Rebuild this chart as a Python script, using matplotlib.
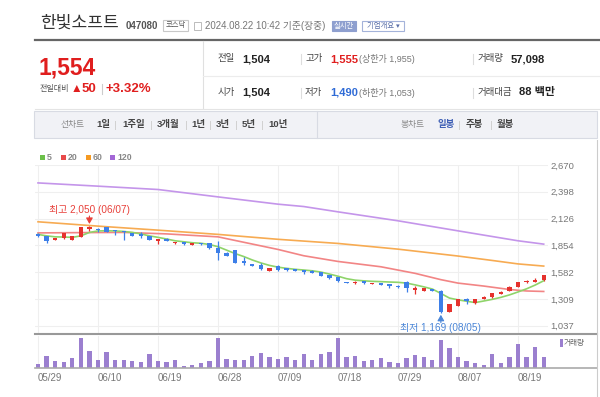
import matplotlib
matplotlib.use('Agg')
import matplotlib.pyplot as plt
from matplotlib.transforms import Affine2D
from matplotlib.patches import Rectangle
from matplotlib.lines import Line2D
import numpy as np

plt.rcParams['font.family'] = ['Liberation Sans', 'Noto Sans CJK KR', 'DejaVu Sans']

# ---------------- data ----------------
tick_idx = [0, 7, 14, 21, 28, 35, 42, 49, 56]
tick_labels = ['05/29', '06/10', '06/19', '06/28', '07/09', '07/18', '07/29', '08/07', '08/19']

opens = [1962, 1950, 1907, 1924, 1910, 1940, 2020, 2020, 2040, 2005,
         1992, 1978, 1965, 1950, 1900, 1917, 1873, 1886, 1860, 1876,
         1873, 1829, 1778, 1805, 1690, 1660, 1653, 1592, 1646, 1620,
         1614, 1600, 1597, 1579, 1551, 1530, 1484, 1467, 1487, 1460,
         1467, 1457, 1443, 1484, 1396, 1389, 1408, 1390, 1180, 1240,
         1305, 1264, 1311, 1325, 1359, 1389, 1433, 1477, 1485, 1504]
highs = [1978, 1952, 1932, 1980, 1950, 2045, 2050, 2025, 2045, 2010,
         1998, 1982, 1985, 1952, 1918, 1925, 1888, 1890, 1878, 1880,
         1876, 1900, 1782, 1808, 1737, 1665, 1675, 1622, 1655, 1625,
         1618, 1603, 1600, 1582, 1554, 1534, 1486, 1490, 1490, 1476,
         1470, 1460, 1446, 1490, 1440, 1418, 1412, 1395, 1258, 1308,
         1318, 1308, 1334, 1368, 1385, 1436, 1480, 1497, 1518, 1555]
lows = [1935, 1880, 1905, 1920, 1905, 1935, 2000, 1985, 1985, 1960,
        1910, 1948, 1924, 1905, 1863, 1895, 1870, 1862, 1858, 1860,
        1820, 1704, 1745, 1672, 1655, 1640, 1600, 1590, 1598, 1595,
        1592, 1565, 1574, 1538, 1514, 1486, 1470, 1460, 1465, 1458,
        1449, 1420, 1424, 1382, 1355, 1386, 1389, 1169, 1176, 1236,
        1262, 1260, 1308, 1322, 1356, 1386, 1430, 1474, 1480, 1490]
closes = [1952, 1896, 1930, 1975, 1947, 2042, 2035, 2005, 1990, 1995,
          1985, 1952, 1950, 1907, 1914, 1902, 1886, 1866, 1876, 1864,
          1822, 1772, 1748, 1676, 1672, 1645, 1610, 1620, 1602, 1600,
          1596, 1582, 1577, 1541, 1518, 1490, 1472, 1484, 1468, 1474,
          1452, 1438, 1427, 1416, 1416, 1416, 1392, 1180, 1255, 1305,
          1293, 1305, 1331, 1365, 1382, 1433, 1477, 1494, 1504, 1554]
volumes = [21800, 60500, 33600, 30200, 52100, 147800, 87400, 42000, 82300, 38600,
           38600, 33600, 28600, 68900, 33600, 28600, 42000, 11800, 16800, 25200,
           33600, 147800, 45400, 38600, 42000, 60500, 77300, 57100, 45400, 57100,
           38600, 68900, 38600, 68900, 82300, 147800, 53800, 60500, 33600, 42000,
           48700, 28600, 25200, 48700, 65500, 53800, 42000, 139400, 102500, 57100,
           33600, 25200, 13400, 68900, 25200, 57100, 117600, 53800, 105800, 57098]

ma5 = [1965, 1950, 1940, 1938, 1935, 1950, 1985, 2000, 2002, 2000,
       1995, 1985, 1970, 1950, 1935, 1918, 1900, 1890, 1880, 1875,
       1862, 1840, 1805, 1770, 1740, 1705, 1675, 1650, 1632, 1620,
       1610, 1603, 1595, 1582, 1562, 1540, 1515, 1500, 1493, 1488,
       1485, 1481, 1478, 1470, 1452, 1432, 1410, 1365, 1318, 1300,
       1286, 1272, 1288, 1305, 1325, 1350, 1380, 1412, 1450, 1494]
ma20_idx = [0, 5, 10, 15, 19, 21, 24, 28, 31, 35, 40, 44, 47, 49, 52, 55, 57, 59]
ma20 = [1980, 1983, 1985, 1970, 1950, 1940, 1885, 1812, 1748, 1690, 1636, 1569, 1505, 1470, 1440, 1405, 1390, 1385]
ma60_idx = [0, 7, 14, 21, 28, 35, 42, 49, 53, 56, 59]
ma60 = [2093, 2049, 2008, 1965, 1915, 1873, 1815, 1745, 1700, 1665, 1643]
ma120_idx = [0, 7, 14, 21, 28, 31, 35, 42, 49, 56, 59]
ma120 = [2488, 2455, 2421, 2346, 2272, 2248, 2194, 2103, 2001, 1900, 1866]

price_ticks = [1037, 1309, 1582, 1854, 2126, 2398, 2670]

# ---------------- figure ----------------
W, H = 600, 397
fig = plt.figure(figsize=(6, 3.97), dpi=100)
fig.patch.set_facecolor('white')
px = Affine2D().scale(1 / W, -1 / H).translate(0, 1) + fig.transFigure

RED = '#e01e1e'
BLUE = '#2f6bd6'
CRED = '#e5322d'
CBLUE = '#3d7fe8'


def T(x, y, s, size=8, color='#333', weight='normal', ha='left', va='center', **kw):
    fig.text(x, y, s, transform=px, fontsize=size, color=color, fontweight=weight,
             ha=ha, va=va, **kw)


def L(x0, y0, x1, y1, color, lw):
    fig.add_artist(Line2D([x0, x1], [y0, y1], transform=px, color=color, lw=lw))


def R(x, y, w, h, fc, ec='none', lw=0.8):
    fig.add_artist(Rectangle((x, y), w, h, transform=px, fc=fc, ec=ec, lw=lw))


def axpos(left, top, right, bottom):
    return [left / W, 1 - bottom / H, (right - left) / W, (bottom - top) / H]


# ---------------- header ----------------
T(40, 23.5, '한빛소프트', size=12.3, color='#333')
T(126, 26, '047080', size=7, weight='bold', color='#555')
R(163, 20, 25, 11, fc='white', ec='#c8c8c8')
T(175.5, 25.7, '코스닥', size=5.3, ha='center', color='#555')
R(194, 22, 7, 8, fc='none', ec='#bbbbbb', lw=0.7)
T(205, 26, '2024.08.22 10:42 기준(장중)', size=7, color='#777')
R(332, 21, 24, 10, fc='#8e9fcf', ec='#8e9fcf')
T(344, 26.2, '실시간', size=5.3, color='white', ha='center')
R(362, 21, 42, 10, fc='white', ec='#a4b3da')
T(383, 26.2, '기업개요 ▾', size=5.3, color='#5a6fa8', ha='center')

L(35, 39.5, 600, 39.5, '#666666', 1.6)
L(202.5, 40.5, 202.5, 108, '#e0e0e0', 0.8)
L(203, 75.5, 600, 75.5, '#ececec', 0.8)
L(35, 108.5, 600, 108.5, '#e4e4e4', 0.8)

T(39, 67.5, '1,554', size=16.5, weight='bold', color=RED)
T(40, 89, '전일대비', size=5.8, color='#555')
T(71, 88.5, '▲', size=8.5, color=RED)
T(82, 89, '50', size=9.5, weight='bold', color=RED)
L(101.5, 84, 101.5, 94, '#cccccc', 0.8)
T(106, 89, '+3.32%', size=9.5, weight='bold', color=RED)

T(218, 59, '전일', size=6.8, color='#444')
T(242, 59, '1,504', size=8, weight='bold', color='#222')
L(301, 54, 301, 64, '#dddddd', 0.8)
T(305, 59, '고가', size=6.8, color='#444')
T(330, 59, '1,555', size=8, weight='bold', color=RED)
T(359, 59, '(상한가 1,955)', size=6.5, color='#777')
L(473, 54, 473, 64, '#dddddd', 0.8)
T(478, 59, '거래량', size=6.8, color='#444')
T(511, 59, '57,098', size=8, weight='bold', color='#222')

T(218, 92.5, '시가', size=6.8, color='#444')
T(242, 92.5, '1,504', size=8, weight='bold', color='#222')
L(301, 87.5, 301, 97.5, '#dddddd', 0.8)
T(305, 92.5, '저가', size=6.8, color='#444')
T(330, 92.5, '1,490', size=8, weight='bold', color=BLUE)
T(359, 92.5, '(하한가 1,053)', size=6.5, color='#777')
L(473, 87.5, 473, 97.5, '#dddddd', 0.8)
T(478, 92.5, '거래대금', size=6.8, color='#444')
T(519, 92.5, '88 백만', size=8, weight='bold', color='#222')

# ---------------- tab bar ----------------
R(34, 111, 563, 27, fc='#f1f2f6', ec='#d8dbe3')
L(317, 111, 317, 138, '#d8dbe3', 0.8)
T(61, 124.5, '선차트', size=6.3, color='#888')
for xx, s in [(96, '1일'), (122, '1주일'), (157, '3개월'), (191, '1년'),
              (216, '3년'), (242, '5년'), (268, '10년')]:
    T(xx, 124.5, s, size=6.8, weight='bold', color='#444')
for xx in [115, 151, 186, 210, 236, 262]:
    L(xx, 120.5, xx, 128.5, '#d0d0d0', 0.7)
T(401, 124.5, '봉차트', size=6.3, color='#888')
T(438, 124.5, '일봉', size=6.8, weight='bold', color='#3e5fb5')
T(466, 124.5, '주봉', size=6.8, weight='bold', color='#444')
T(497, 124.5, '월봉', size=6.8, weight='bold', color='#444')
for xx in [459, 491]:
    L(xx, 120.5, xx, 128.5, '#d0d0d0', 0.7)

# ---------------- legend ----------------
for xx, c, s in [(40, '#6cc04a', '5'), (61, '#e84a4a', '20'),
                 (86, '#f59a23', '60'), (110, '#a367d6', '120')]:
    R(xx, 154.5, 5, 5, fc=c)
    T(xx + 7, 157, s, size=6.3, weight='bold', color='#888')

# ---------------- price axes ----------------
x = np.arange(len(closes))
o = np.array(opens); c = np.array(closes); hi = np.array(highs); lo = np.array(lows)
up = c >= o
ax = fig.add_axes(axpos(35, 165, 548, 333))
ax.set_xlim(-0.35, 59.5)
ax.set_ylim(963, 2670)
for s in ax.spines.values():
    s.set_visible(False)
ax.set_xticks(tick_idx)
ax.set_xticklabels([])
ax.set_yticks(price_ticks)
ax.set_yticklabels([f'{v:,}' for v in price_ticks])
ax.yaxis.tick_right()
ax.tick_params(axis='y', length=0, pad=2, labelsize=6.8, labelcolor='#777')
ax.tick_params(axis='x', length=0)
ax.grid(True, color='#efefef', lw=0.8)
ax.set_axisbelow(True)

ax.plot(ma120_idx, ma120, color='#c495ea', lw=1.2, zorder=2)
ax.plot(ma60_idx, ma60, color='#f7ab52', lw=1.2, zorder=2)
ax.plot(ma20_idx, ma20, color='#f28585', lw=1.2, zorder=2)
ax.plot(x, ma5, color='#8fd46a', lw=1.2, zorder=2)

colors = np.where(up, CRED, CBLUE)
ax.vlines(x, lo, hi, colors=colors, lw=0.9, zorder=3)
body_bottom = np.minimum(o, c)
body_h = np.maximum(np.abs(c - o), 12)
ax.bar(x, body_h, bottom=body_bottom, width=0.5, color=colors, zorder=4)

hi_i = int(np.argmax(hi)); lo_i = int(np.argmin(lo))
arrow = dict(arrowstyle='-|>,head_length=0.35,head_width=0.2', lw=0.8, shrinkA=0, shrinkB=1.5)
ax.annotate('최고 2,050 (06/07)', xy=(hi_i, hi[hi_i]), xytext=(0, 11.2), textcoords='offset points',
            ha='center', va='center', fontsize=7.2, color='#e8403a')
ax.annotate('', xy=(hi_i, hi[hi_i]), xytext=(0, 7.2), textcoords='offset points',
            arrowprops=dict(arrow, color='#e8403a'))
ax.annotate('최저 1,169 (08/05)', xy=(lo_i, lo[lo_i]), xytext=(0, -11.2), textcoords='offset points',
            ha='center', va='center', fontsize=7.2, color='#4a86d8')
ax.annotate('', xy=(lo_i, lo[lo_i]), xytext=(0, -7.2), textcoords='offset points',
            arrowprops=dict(arrow, color='#4a86d8'))

# ---------------- volume axes ----------------
axv = fig.add_axes(axpos(35, 336, 548, 368))
axv.set_xlim(-0.35, 59.5)
axv.set_ylim(0, 160000)
for s in axv.spines.values():
    s.set_visible(False)
axv.bar(x, volumes, width=0.5, color='#9b7fcf', zorder=3)
axv.set_yticks([])
axv.set_xticks(tick_idx)
axv.set_xticklabels(tick_labels)
for lbl in axv.get_xticklabels():
    lbl.set_ha('left')
axv.tick_params(axis='x', length=0, pad=3.8, labelsize=7, labelcolor='#777')
axv.grid(True, axis='x', color='#efefef', lw=0.8)
axv.set_axisbelow(True)

L(35, 333.5, 597, 333.5, '#999999', 1.5)
L(35, 368, 597, 368, '#aaaaaa', 1.2)
L(597, 140, 597, 397, '#cccccc', 0.8)
R(560, 339, 2.5, 8, fc='#9b7fcf')
T(564, 343.5, '거래량', size=5.5, color='#666')

fig.savefig('out.png', dpi=100)
